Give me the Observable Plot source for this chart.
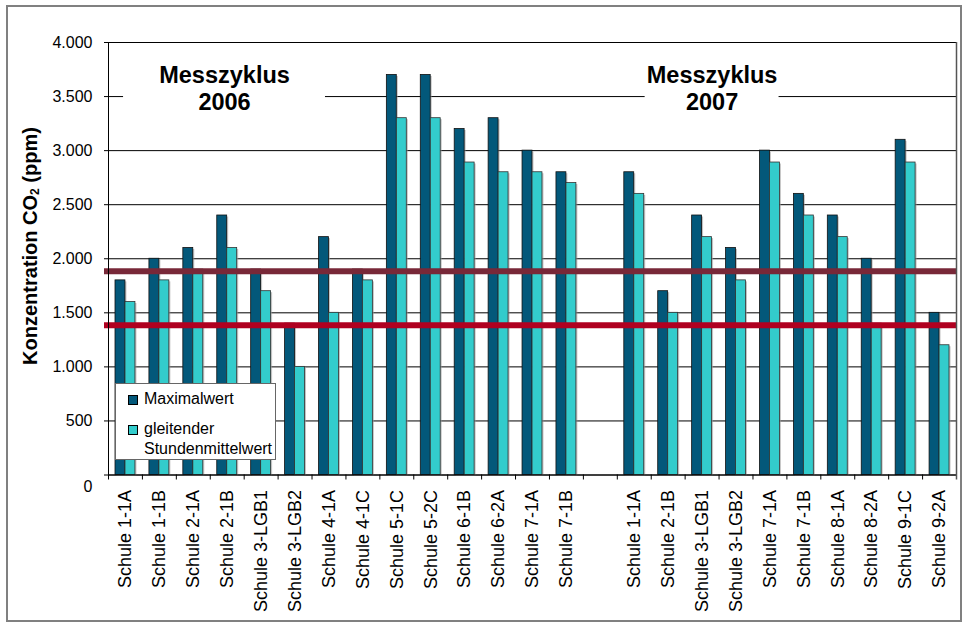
<!DOCTYPE html>
<html>
<head>
<meta charset="utf-8">
<script src="https://cdn.jsdelivr.net/npm/d3@7"></script>
<script src="https://cdn.jsdelivr.net/npm/@observablehq/plot@0.6"></script>
<style>
  html, body { margin: 0; padding: 0; background: #fff; }
  #wrap { position: relative; width: 967px; height: 627px; font-family: "Liberation Sans", Arial, sans-serif; }
  #border { position: absolute; left: 6px; top: 5px; width: 952px; height: 613px; border: 2px solid #808080; pointer-events: none; }
  #ytitle { position: absolute; left: 30px; top: 246px; transform: translate(-50%, -50%) rotate(-90deg); white-space: nowrap; font-weight: bold; font-size: 20px; color: #000; }
  #ytitle sub { font-size: 12px; vertical-align: -2px; }
  #legend { position: absolute; left: 115px; top: 383px; width: 161px; height: 77px; box-sizing: border-box; border: 1px solid #666; background: #fff; font-size: 16px; color: #000; }
  .li { position: absolute; left: 12px; display: flex; align-items: flex-start; line-height: 20px; }
  .sw { width: 8px; height: 8px; border: 1px solid #000; margin-top: 6px; margin-right: 6px; flex: none; }
</style>
</head>
<body>
<div id="wrap">
  <div id="chart"></div>
  <div id="ytitle">Konzentration CO<sub>2</sub> (ppm)</div>
  <div id="legend"></div>
  <div id="border"></div>
</div>
<script>
// ---- data ----
const schools2006 = ["Schule 1-1A","Schule 1-1B","Schule 2-1A","Schule 2-1B","Schule 3-LGB1","Schule 3-LGB2","Schule 4-1A","Schule 4-1C","Schule 5-1C","Schule 5-2C","Schule 6-1B","Schule 6-2A","Schule 7-1A","Schule 7-1B"];
const max2006  = [1800,2000,2100,2400,1900,1400,2200,1900,3700,3700,3200,3300,3000,2800];
const mean2006 = [1600,1800,1900,2100,1700,1000,1500,1800,3300,3300,2890,2800,2800,2700];

const schools2007 = ["Schule 1-1A","Schule 2-1B","Schule 3-LGB1","Schule 3-LGB2","Schule 7-1A","Schule 7-1B","Schule 8-1A","Schule 8-2A","Schule 9-1C","Schule 9-2A"];
const max2007  = [2800,1700,2400,2100,3000,2600,2400,2000,3100,1500];
const mean2007 = [2600,1500,2200,1800,2890,2400,2200,1400,2890,1200];

const seriesNames = ["Maximalwert", "gleitender Stundenmittelwert"];
const yTicks = [0,500,1000,1500,2000,2500,3000,3500,4000];
const refHigh = 1885;
const refLow = 1385;
const cycleLabels = ["Messzyklus\n2006", "Messzyklus\n2007"];
const cycleAnchors = ["2006|Schule 2-1B", "2007|Schule 3-LGB1"];

// ---- build table ----
const rows = [];
schools2006.forEach((s, i) => rows.push({key: "2006|" + s, label: s, max: max2006[i], mean: mean2006[i]}));
const gapKey = "gap";
schools2007.forEach((s, i) => rows.push({key: "2007|" + s, label: s, max: max2007[i], mean: mean2007[i]}));
const keys = [...schools2006.map(s => "2006|" + s), gapKey, ...schools2007.map(s => "2007|" + s)];
const labelOf = k => k === gapKey ? "" : k.split("|")[1];
const annotations = cycleLabels.map((t, i) => ({text: t, at: cycleAnchors[i]}));

const de = d3.formatLocale({decimal: ",", thousands: ".", grouping: [3], currency: ["", " €"]});
const fmt = de.format(",");

const W = 967, H = 627;
const mL = 108, mR = 11, mT = 42, mB = 152.5;
const bw = (W - mL - mR) / keys.length;

const cDark = "#03587A", cCyan = "#33CCCC", cMaroon = "#782838", cRed = "#B00020";

const chart = Plot.plot({
  width: W, height: H,
  marginLeft: mL, marginRight: mR, marginTop: mT, marginBottom: mB,
  style: {fontFamily: "'Liberation Sans', Arial, sans-serif", color: "#000", background: "transparent"},
  x: {type: "band", domain: keys, padding: 0, round: false, axis: null},
  y: {domain: [0, 4000], axis: null},
  marks: [
    Plot.ruleY(yTicks, {stroke: "#000", strokeWidth: 1}),
    // bar shadows
    Plot.barY(rows, {x: "key", y: "max", fill: "#999", fillOpacity: 0.6, insetLeft: 7, insetRight: 17, dx: 1.5, dy: 1.5}),
    Plot.barY(rows, {x: "key", y: "mean", fill: "#999", fillOpacity: 0.6, insetLeft: 17, insetRight: 7, dx: 1.5, dy: 1.5}),
    Plot.barY(rows, {x: "key", y: "max", fill: cDark, stroke: "#111", strokeWidth: 0.8, insetLeft: 7, insetRight: 17}),
    Plot.barY(rows, {x: "key", y: "mean", fill: cCyan, stroke: "#333", strokeWidth: 0.8, insetLeft: 17, insetRight: 7}),
    Plot.ruleY([0], {stroke: "#000", strokeWidth: 1}),
    // reference lines
    Plot.ruleY([refHigh], {stroke: cMaroon, strokeWidth: 6, insetLeft: -4}),
    Plot.ruleY([refLow], {stroke: cRed, strokeWidth: 6, insetLeft: -4}),
    // annotation white boxes
    Plot.barY([annotations[0]], {x: "at", y1: 3330, y2: 3830, fill: "white", insetLeft: -84, insetRight: -84, dx: -2.7}),
    Plot.barY([annotations[1]], {x: "at", y1: 3330, y2: 3830, fill: "white", insetLeft: -50, insetRight: -50, dx: 10}),
    Plot.text([annotations[0]], {x: "at", y: 3585, text: "text", fontSize: 23.5, fontWeight: "bold", lineHeight: 1.15, dx: -2.7, fill: "#000"}),
    Plot.text([annotations[1]], {x: "at", y: 3585, text: "text", fontSize: 23.5, fontWeight: "bold", lineHeight: 1.15, dx: 10, fill: "#000"}),
    // top border / gridline at 4000 redrawn
    Plot.ruleY([4000], {stroke: "#000", strokeWidth: 1}),
    // axis line left and right border, with category boundary ticks
    Plot.ruleX([keys[0]], {x: d => d, dx: -bw / 2, stroke: "#000", insetBottom: -5}),
    Plot.ruleX([keys[keys.length - 1]], {x: d => d, dx: bw / 2, stroke: "#555", strokeWidth: 1.5, insetBottom: -5}),
    Plot.ruleX(keys.slice(1), {x: d => d, dx: -bw / 2, y1: 0, y2: 0, stroke: "#000", insetBottom: -5}),
    // axes
    Plot.axisY({ticks: yTicks, tickSize: 4, tickPadding: 12, tickFormat: d => d === 0 ? "" : fmt(d), fontSize: 16, label: null}),
    Plot.axisY({ticks: [0], tickSize: 0, tickPadding: 16, dy: 12, tickFormat: d => fmt(d), fontSize: 16, label: null}),
    Plot.axisX({tickSize: 0, tickRotate: -90, tickPadding: 15, fontSize: 18, tickFormat: labelOf, label: null})
  ]
});
document.getElementById("chart").appendChild(chart);

// legend
const colors = [cDark, cCyan];
const legend = document.getElementById("legend");
const tops = [5, 35];
seriesNames.forEach((n, i) => {
  const item = document.createElement("div");
  item.className = "li";
  item.style.top = tops[i] + "px";
  const sw = document.createElement("div");
  sw.className = "sw";
  sw.style.background = colors[i];
  const tx = document.createElement("div");
  if (i === 1) {
    tx.innerHTML = "gleitender<br>Stundenmittelwert";
  } else {
    tx.textContent = n;
  }
  item.appendChild(sw);
  item.appendChild(tx);
  legend.appendChild(item);
});
</script>
</body>
</html>
